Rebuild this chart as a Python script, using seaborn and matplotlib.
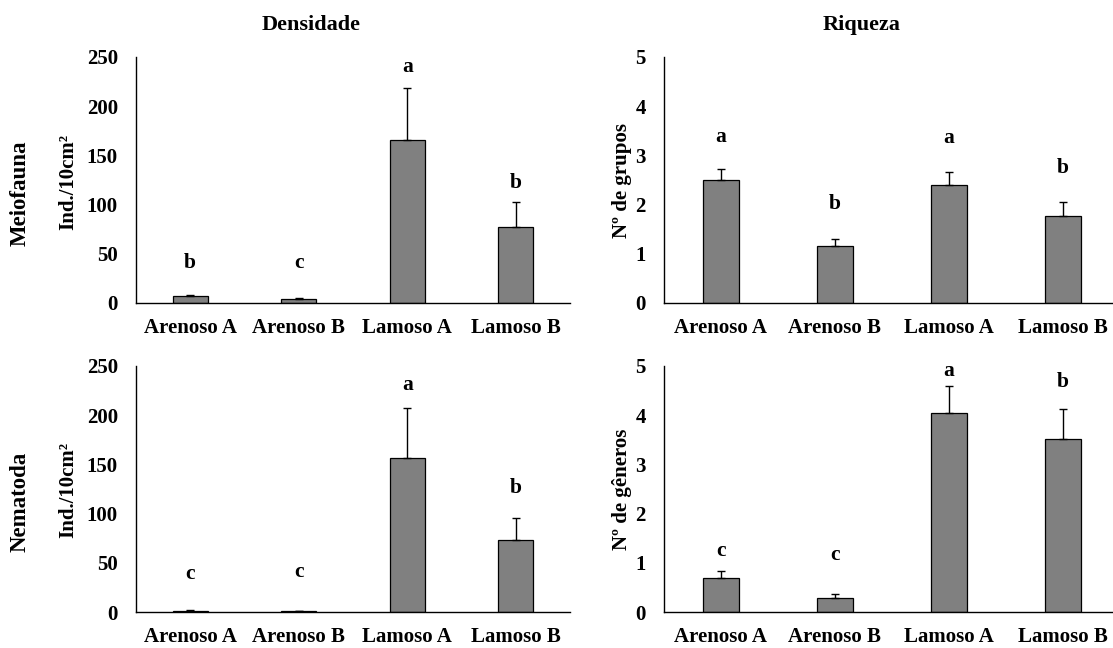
import matplotlib
matplotlib.use("Agg")
import matplotlib.pyplot as plt
import seaborn as sns
import pandas as pd

categories = ["Arenoso A", "Arenoso B", "Lamoso A", "Lamoso B"]

# Meiofauna - Densidade (Ind./10cm²)
meio_dens = [7.1, 3.7, 166.0, 77.5]
meio_dens_err = [1.0, 1.4, 52.0, 25.0]
meio_dens_letters = ["b", "c", "a", "b"]
meio_dens_letter_y = [40.5, 41.0, 240.0, 122.0]

# Meiofauna - Riqueza (Nº de grupos)
meio_riq = [2.51, 1.16, 2.40, 1.77]
meio_riq_err = [0.21, 0.15, 0.26, 0.28]
meio_riq_letters = ["a", "b", "a", "b"]
meio_riq_letter_y = [3.38, 2.02, 3.35, 2.74]

# Nematoda - Densidade (Ind./10cm²)
nema_dens = [1.3, 0.9, 156.5, 73.2]
nema_dens_err = [1.1, 0.4, 50.5, 22.7]
nema_dens_letters = ["c", "c", "a", "b"]
nema_dens_letter_y = [39.0, 41.0, 231.0, 126.0]

# Nematoda - Riqueza (Nº de gêneros)
nema_riq = [0.70, 0.28, 4.05, 3.52]
nema_riq_err = [0.13, 0.09, 0.54, 0.60]
nema_riq_letters = ["c", "c", "a", "b"]
nema_riq_letter_y = [1.25, 1.15, 4.89, 4.68]

dens_ticks = [0, 50, 100, 150, 200, 250]
riq_ticks = [0, 1, 2, 3, 4, 5]

sns.set_style("white")
plt.rcParams["font.family"] = ["Liberation Serif", "DejaVu Serif"]
plt.rcParams["font.weight"] = "bold"
for key in ["text.color", "axes.labelcolor", "xtick.color", "ytick.color", "axes.edgecolor"]:
    plt.rcParams[key] = "black"

W, H = 1113, 648
fig = plt.figure(figsize=(W / 100, H / 100), dpi=100)

def ax_rect(left_px, top_px, width_px, height_px):
    return [left_px / W, 1 - (top_px + height_px) / H, width_px / W, height_px / H]

panels = [
    (ax_rect(136, 57, 434, 246), meio_dens, meio_dens_err, meio_dens_letters, meio_dens_letter_y, dens_ticks),
    (ax_rect(664, 57, 456, 246), meio_riq, meio_riq_err, meio_riq_letters, meio_riq_letter_y, riq_ticks),
    (ax_rect(136, 366, 434, 246), nema_dens, nema_dens_err, nema_dens_letters, nema_dens_letter_y, dens_ticks),
    (ax_rect(664, 366, 456, 246), nema_riq, nema_riq_err, nema_riq_letters, nema_riq_letter_y, riq_ticks),
]

for rect, vals, errs, letters, letter_y, ticks in panels:
    ax = fig.add_axes(rect)
    df = pd.DataFrame({"cat": categories, "val": vals})
    sns.barplot(data=df, x="cat", y="val", ax=ax, color="#808080", saturation=1,
                width=0.32, edgecolor="black", linewidth=0.9, errorbar=None)
    ax.errorbar(range(len(categories)), vals, yerr=[[0] * len(errs), errs],
                fmt="none", ecolor="black", elinewidth=1.0, capsize=3.2, capthick=1.0)
    for i, (lt, ly) in enumerate(zip(letters, letter_y)):
        ax.text(i, ly, lt, ha="center", va="center", fontsize=15.5, fontweight="bold",
                color="black")
    ax.set_xlim(-0.5, len(categories) - 0.5)
    ax.set_ylim(ticks[0], ticks[-1])
    ax.set_yticks(ticks)
    ax.set_yticklabels([str(t) for t in ticks])
    ax.set_xlabel("")
    ax.set_ylabel("")
    ax.tick_params(axis="both", length=0, labelsize=15, colors="black")
    ax.tick_params(axis="y", pad=13)
    ax.tick_params(axis="x", pad=11)
    for lab in ax.get_xticklabels() + ax.get_yticklabels():
        lab.set_fontweight("bold")
    for s in ["top", "right"]:
        ax.spines[s].set_visible(False)
    for s in ["left", "bottom"]:
        ax.spines[s].set_color("black")
        ax.spines[s].set_linewidth(1.0)

def ptext(x_px, y_px, s, **kw):
    fig.text(x_px / W, 1 - y_px / H, s, ha="center", va="center", fontweight="bold",
             color="black", **kw)

# Y axis labels
ptext(68, 182, "Ind./10cm²", rotation=90, fontsize=15)
ptext(68, 490, "Ind./10cm²", rotation=90, fontsize=15)
ptext(622, 180, "Nº de grupos", rotation=90, fontsize=15)
ptext(622, 489, "Nº de gêneros", rotation=90, fontsize=15)

# Row labels
ptext(20, 193, "Meiofauna", rotation=90, fontsize=16.5)
ptext(20, 502, "Nematoda", rotation=90, fontsize=16.5)

# Column titles
ptext(311, 25, "Densidade", fontsize=16)
ptext(862, 25, "Riqueza", fontsize=16)

fig.savefig("out.png", dpi=100, facecolor="white")
